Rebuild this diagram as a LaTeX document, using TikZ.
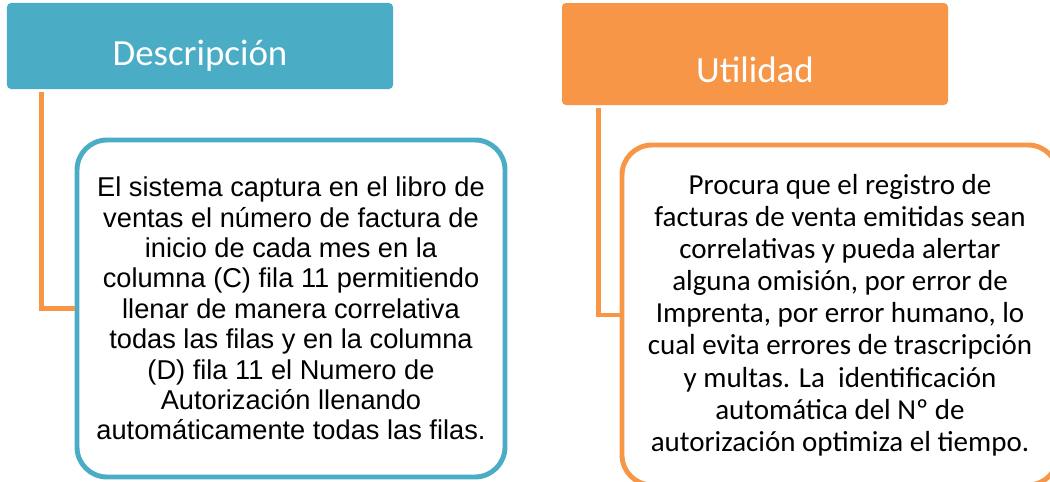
\documentclass[tikz,border=0pt]{standalone}
\usepackage{fontspec}
\setmainfont{Carlito}
\newfontfamily\arialfont{Liberation Sans}
\usetikzlibrary{positioning}
\definecolor{teal1}{HTML}{4BACC6}
\definecolor{orange1}{HTML}{F79646}

\begin{document}
\begin{tikzpicture}[
    header/.style={rectangle, rounded corners=0.08cm, minimum width=7.72cm,
      text=white, font=\fontsize{21}{25}\selectfont, text depth=0cm},
    textbox/.style={rectangle, rounded corners=0.6cm, line width=2.8pt,
      fill=white, align=center},
    link/.style={orange1, line width=2.8pt, shorten <=0.06cm},
  ]
  \useasboundingbox (0,0) rectangle (21,-9.64);

  % headers
  \node[header, fill=teal1, minimum height=1.72cm, text height=0.76cm] (desc) at (4.0,-0.92) {Descripción};
  \node[header, fill=orange1, minimum height=2.04cm, text height=1.12cm] (util) at (15.1,-1.08) {Utilidad};

  % boxes
  \node[textbox, draw=teal1, minimum width=8.56cm, minimum height=6.74cm,
    font=\arialfont\fontsize{15.5}{17.3}\selectfont] (descbox) at (5.82,-6.17)
    {El sistema captura en el libro de\\ventas el número de factura de\\inicio de cada mes en la\\columna (C) fila 11 permitiendo\\llenar de manera correlativa\\todas las filas y en la columna\\(D) fila 11 el Numero de\\Autorización llenando\\automáticamente todas las filas.};
  \node[textbox, draw=orange1, minimum width=8.72cm, minimum height=6.8cm,
    font=\fontsize{16.5}{18.3}\selectfont] (utilbox) at (16.8,-6.3)
    {Procura que el registro de\\facturas de venta emitidas sean\\correlativas y pueda alertar\\alguna omisión, por error de\\Imprenta, por error humano, lo\\cual evita errores de trascripción\\y multas. La\ \ identificación\\automática del Nº de\\autorización optimiza el tiempo.};

  % connectors
  \draw[link] ([xshift=0.7cm]desc.south west) |- (descbox.west);
  \draw[link] ([xshift=0.74cm]util.south west) |- (utilbox.west);
\end{tikzpicture}
\end{document}
